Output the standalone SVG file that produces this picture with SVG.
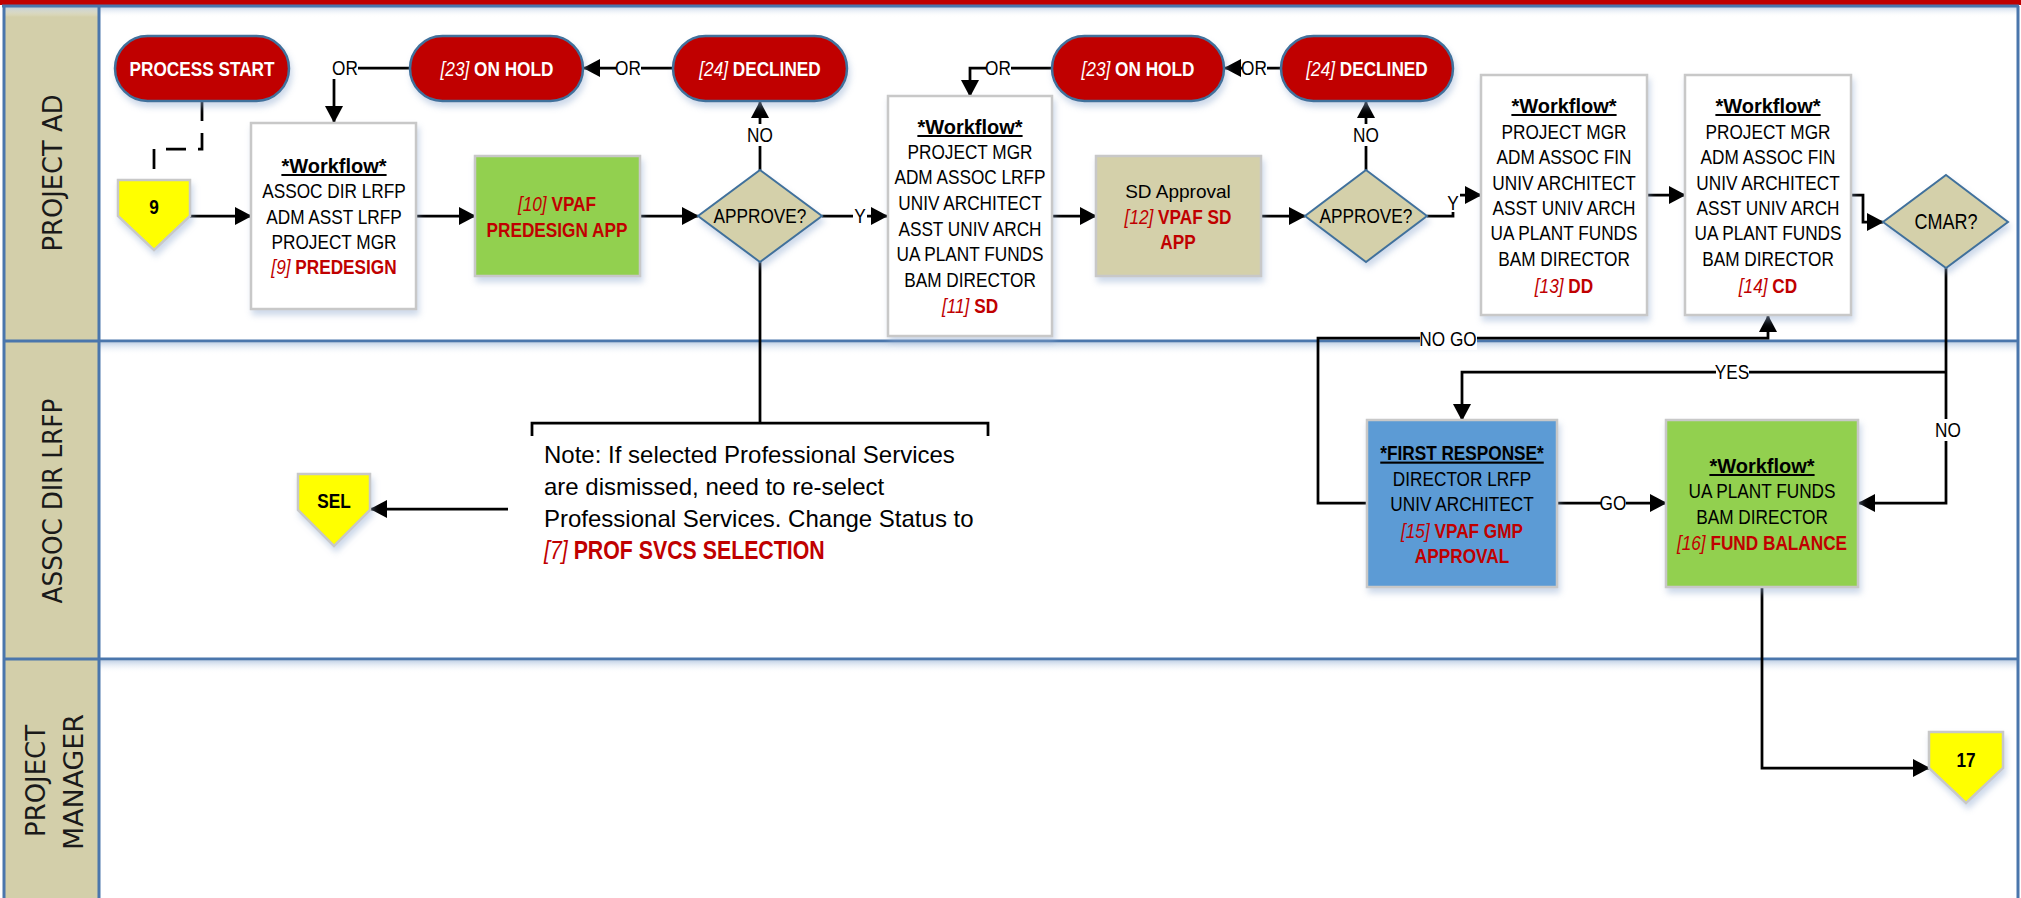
<svg xmlns="http://www.w3.org/2000/svg" width="2021" height="898" viewBox="0 0 2021 898">
<defs>
<style>
.n{font-family:'Liberation Sans',Arial,sans-serif;font-size:21px;fill:#000;text-anchor:middle}
.b{font-weight:bold}
.r{fill:#C00000}
.wt{fill:#fff}
.i{font-style:italic;font-weight:normal}
.wf{font-family:'Liberation Sans',Arial,sans-serif;font-weight:bold;font-size:20px;text-decoration:underline;text-anchor:middle}
.sd{font-family:'Liberation Sans',Arial,sans-serif;font-size:19px;text-anchor:middle}
.note{font-family:'Liberation Sans',Arial,sans-serif;font-size:24px;fill:#000}
.lane{font-family:'DejaVu Sans',sans-serif;font-size:27px;fill:#1a1a1a;text-anchor:middle}
.term{fill:#C00000;stroke:#41719C;stroke-width:2.5}
.box{stroke:#C8C8C8;stroke-width:2.5}
.dia{fill:#D4D0AA;stroke:#41719C;stroke-width:2}
.yel{fill:#FFFF00;stroke:#C8C8C8;stroke-width:2.5}
.c{fill:none;stroke:#000;stroke-width:2.75}
.lblbg{fill:#fff}
.lline{stroke:#4A76AC;stroke-width:3}
</style>
<marker id="ah" markerUnits="userSpaceOnUse" markerWidth="18" markerHeight="18" refX="16" refY="9" orient="auto">
<path d="M0,0 L17,9 L0,18 z" fill="#000"/>
</marker>
<filter id="sh" x="-10%" y="-10%" width="130%" height="130%">
<feDropShadow dx="2" dy="5" stdDeviation="3" flood-color="#8FA9CF" flood-opacity="0.45"/>
</filter>
<linearGradient id="lg" x1="0" y1="0" x2="0" y2="1">
<stop offset="0" stop-color="#B9CBE3" stop-opacity="0.8"/>
<stop offset="1" stop-color="#FFFFFF" stop-opacity="0"/>
</linearGradient>
</defs>

<g id="background">
<rect x="0" y="0" width="2021" height="898" fill="#fff"/>
<rect x="4" y="6" width="95" height="892" fill="#D3CFAA"/>
<rect x="99" y="7" width="1919" height="10" fill="url(#lg)"/>
<rect x="4" y="7" width="95" height="10" fill="url(#lg)"/>
<rect x="99" y="343" width="1919" height="12" fill="url(#lg)"/>
<rect x="99" y="661" width="1919" height="12" fill="url(#lg)"/>
<rect x="0" y="0" width="2021" height="5" fill="#C00000"/>
<line class="lline" x1="2" y1="6" x2="2019" y2="6"/>
<line class="lline" x1="4" y1="6" x2="4" y2="898"/>
<line class="lline" x1="99" y1="6" x2="99" y2="898"/>
<line class="lline" x1="2018" y1="6" x2="2018" y2="898"/>
<line class="lline" x1="4" y1="341" x2="2018" y2="341"/>
<line class="lline" x1="4" y1="659" x2="2018" y2="659"/>
</g>

<g id="lanes">
<text class="lane" transform="translate(62,173) rotate(-90)" textLength="157" lengthAdjust="spacingAndGlyphs">PROJECT AD</text>
<text class="lane" transform="translate(62,501) rotate(-90)" textLength="205" lengthAdjust="spacingAndGlyphs">ASSOC DIR LRFP</text>
<text class="lane" transform="translate(45,781) rotate(-90)" textLength="112" lengthAdjust="spacingAndGlyphs">PROJECT</text>
<text class="lane" transform="translate(83,782) rotate(-90)" textLength="136" lengthAdjust="spacingAndGlyphs">MANAGER</text>
</g>

<g id="connectors">
<path class="c" d="M202,101 V149 H154 V180" stroke-dasharray="20,12"/>
<path class="c" d="M190,216 H251" marker-end="url(#ah)"/>
<path class="c" d="M416,216 H475" marker-end="url(#ah)"/>
<path class="c" d="M640,216 H698" marker-end="url(#ah)"/>
<path class="c" d="M410,68 H334 V122" marker-end="url(#ah)"/>
<path class="c" d="M673,68 H584" marker-end="url(#ah)"/>
<path class="c" d="M760,170 V102" marker-end="url(#ah)"/>
<path class="c" d="M822,216 H887" marker-end="url(#ah)"/>
<path class="c" d="M760,262 V423"/>
<path class="c" d="M532,436 V423 H988 V436"/>
<path class="c" d="M508,509 H371" marker-end="url(#ah)"/>
<path class="c" d="M1052,68 H970 V96" marker-end="url(#ah)"/>
<path class="c" d="M1281,68 H1225" marker-end="url(#ah)"/>
<path class="c" d="M1052,216 H1096" marker-end="url(#ah)"/>
<path class="c" d="M1261,216 H1305" marker-end="url(#ah)"/>
<path class="c" d="M1366,170 V102" marker-end="url(#ah)"/>
<path class="c" d="M1427,216 H1453 V195 H1481" marker-end="url(#ah)"/>
<path class="c" d="M1647,195 H1685" marker-end="url(#ah)"/>
<path class="c" d="M1851,195 H1863 V222 H1883" marker-end="url(#ah)"/>
<path class="c" d="M1946,268 V503 H1859" marker-end="url(#ah)"/>
<path class="c" d="M1946,372 H1462 V420" marker-end="url(#ah)"/>
<path class="c" d="M1557,503 H1666" marker-end="url(#ah)"/>
<path class="c" d="M1367,503 H1318 V338 H1768 V316" marker-end="url(#ah)"/>
<path class="c" d="M1762,587 V768 H1929" marker-end="url(#ah)"/>
</g>

<g id="connector-labels">
<rect class="lblbg" x="332" y="57" width="26" height="22"/>
<text class="n" transform="translate(345,0) scale(0.82,1)" y="75.5">OR</text>
<rect class="lblbg" x="616" y="57" width="25" height="22"/>
<text class="n" transform="translate(628,0) scale(0.82,1)" y="75.5">OR</text>
<rect class="lblbg" x="748" y="124" width="25" height="22"/>
<text class="n" transform="translate(760,0) scale(0.82,1)" y="142.5">NO</text>
<rect class="lblbg" x="853" y="205" width="14" height="22"/>
<text class="n" transform="translate(860,0) scale(0.82,1)" y="223.5">Y</text>
<rect class="lblbg" x="986" y="57" width="25" height="22"/>
<text class="n" transform="translate(998,0) scale(0.82,1)" y="75.5">OR</text>
<rect class="lblbg" x="1242" y="57" width="25" height="22"/>
<text class="n" transform="translate(1254,0) scale(0.82,1)" y="75.5">OR</text>
<rect class="lblbg" x="1354" y="124" width="25" height="22"/>
<text class="n" transform="translate(1366,0) scale(0.82,1)" y="142.5">NO</text>
<rect class="lblbg" x="1446" y="192" width="14" height="20"/>
<text class="n" transform="translate(1453,0) scale(0.82,1)" y="210.5">Y</text>
<rect class="lblbg" x="1420" y="328" width="57" height="22"/>
<text class="n" transform="translate(1448,0) scale(0.82,1)" y="346.5">NO GO</text>
<rect class="lblbg" x="1716" y="361" width="33" height="22"/>
<text class="n" transform="translate(1732,0) scale(0.82,1)" y="379.5">YES</text>
<rect class="lblbg" x="1936" y="419" width="25" height="22"/>
<text class="n" transform="translate(1948,0) scale(0.82,1)" y="437.5">NO</text>
<rect class="lblbg" x="1601" y="492" width="25" height="22"/>
<text class="n" transform="translate(1613,0) scale(0.82,1)" y="510.5">GO</text>
</g>

<g id="process-start">
<rect class="term" x="115" y="36" width="174" height="65" rx="32.5" filter="url(#sh)"/>
<text class="n b wt" transform="translate(202,0) scale(0.82,1)" y="76.5">PROCESS START</text>
</g>

<g id="on-hold-1">
<rect class="term" x="410" y="36" width="173" height="65" rx="32.5" filter="url(#sh)"/>
<text class="n b wt" transform="translate(497,0) scale(0.82,1)" y="76.5"><tspan class="i">[23]</tspan> ON HOLD</text>
</g>

<g id="declined-1">
<rect class="term" x="673" y="36" width="174" height="65" rx="32.5" filter="url(#sh)"/>
<text class="n b wt" transform="translate(760,0) scale(0.82,1)" y="76.5"><tspan class="i">[24]</tspan> DECLINED</text>
</g>

<g id="on-hold-2">
<rect class="term" x="1052" y="36" width="172" height="65" rx="32.5" filter="url(#sh)"/>
<text class="n b wt" transform="translate(1138,0) scale(0.82,1)" y="76.5"><tspan class="i">[23]</tspan> ON HOLD</text>
</g>

<g id="declined-2">
<rect class="term" x="1281" y="36" width="172" height="65" rx="32.5" filter="url(#sh)"/>
<text class="n b wt" transform="translate(1367,0) scale(0.82,1)" y="76.5"><tspan class="i">[24]</tspan> DECLINED</text>
</g>

<g id="connector-9">
<path class="yel" d="M118,180 H190 V216 L154,250 L118,216 Z" filter="url(#sh)"/>
<text class="n b" transform="translate(154,0) scale(0.82,1)" y="214.5">9</text>
</g>

<g id="workflow-predesign">
<rect class="box" x="251" y="123" width="165" height="186" fill="#fff" filter="url(#sh)"/>
<text class="wf" x="334" y="173">*Workflow*</text>
<g transform="translate(334,0) scale(0.82,1)">
<text class="n" y="198.5">ASSOC DIR LRFP</text>
<text class="n" y="224">ADM ASST LRFP</text>
<text class="n" y="249.5">PROJECT MGR</text>
<text class="n b r" y="274.5"><tspan class="i">[9]</tspan> PREDESIGN</text>
</g>
</g>

<g id="vpaf-predesign">
<rect class="box" x="475" y="156" width="165" height="120" fill="#92D050" filter="url(#sh)"/>
<g transform="translate(557,0) scale(0.82,1)">
<text class="n b r" y="211.5"><tspan class="i">[10]</tspan> VPAF</text>
<text class="n b r" y="237.5">PREDESIGN APP</text>
</g>
</g>

<g id="approve-1">
<path class="dia" d="M760,170 L822,216 L760,262 L698,216 Z" filter="url(#sh)"/>
<text class="n" transform="translate(760,0) scale(0.82,1)" y="223.5">APPROVE?</text>
</g>

<g id="workflow-sd">
<rect class="box" x="888" y="96" width="164" height="240" fill="#fff" filter="url(#sh)"/>
<text class="wf" x="970" y="134">*Workflow*</text>
<g transform="translate(970,0) scale(0.82,1)">
<text class="n" y="159.5">PROJECT MGR</text>
<text class="n" y="184.5">ADM ASSOC LRFP</text>
<text class="n" y="210.5">UNIV ARCHITECT</text>
<text class="n" y="236.5">ASST UNIV ARCH</text>
<text class="n" y="261.5">UA PLANT FUNDS</text>
<text class="n" y="287.5">BAM DIRECTOR</text>
<text class="n b r" y="313.5"><tspan class="i">[11]</tspan> SD</text>
</g>
</g>

<g id="sd-approval">
<rect class="box" x="1096" y="156" width="165" height="120" fill="#D4D0AA" filter="url(#sh)"/>
<text class="sd" x="1178" y="198">SD Approval</text>
<g transform="translate(1178,0) scale(0.82,1)">
<text class="n b r" y="224.5"><tspan class="i">[12]</tspan> VPAF SD</text>
<text class="n b r" y="249.5">APP</text>
</g>
</g>

<g id="approve-2">
<path class="dia" d="M1366,170 L1427,216 L1366,262 L1305,216 Z" filter="url(#sh)"/>
<text class="n" transform="translate(1366,0) scale(0.82,1)" y="223.5">APPROVE?</text>
</g>

<g id="workflow-dd">
<rect class="box" x="1481" y="75" width="166" height="240" fill="#fff" filter="url(#sh)"/>
<text class="wf" x="1564" y="113">*Workflow*</text>
<g transform="translate(1564,0) scale(0.82,1)">
<text class="n" y="139.5">PROJECT MGR</text>
<text class="n" y="164.5">ADM ASSOC FIN</text>
<text class="n" y="190.5">UNIV ARCHITECT</text>
<text class="n" y="215.5">ASST UNIV ARCH</text>
<text class="n" y="240.5">UA PLANT FUNDS</text>
<text class="n" y="266.5">BAM DIRECTOR</text>
<text class="n b r" y="293.5"><tspan class="i">[13]</tspan> DD</text>
</g>
</g>

<g id="workflow-cd">
<rect class="box" x="1685" y="75" width="166" height="240" fill="#fff" filter="url(#sh)"/>
<text class="wf" x="1768" y="113">*Workflow*</text>
<g transform="translate(1768,0) scale(0.82,1)">
<text class="n" y="139.5">PROJECT MGR</text>
<text class="n" y="164.5">ADM ASSOC FIN</text>
<text class="n" y="190.5">UNIV ARCHITECT</text>
<text class="n" y="215.5">ASST UNIV ARCH</text>
<text class="n" y="240.5">UA PLANT FUNDS</text>
<text class="n" y="266.5">BAM DIRECTOR</text>
<text class="n b r" y="293.5"><tspan class="i">[14]</tspan> CD</text>
</g>
</g>

<g id="cmar">
<path class="dia" d="M1946,175 L2008,222 L1946,268 L1883,222 Z" filter="url(#sh)"/>
<text class="n" transform="translate(1946,0) scale(0.82,1)" y="229.5" style="font-size:22px">CMAR?</text>
</g>

<g id="note">
<text class="note" x="544" y="462.5">Note: If selected Professional Services</text>
<text class="note" x="544" y="495">are dismissed, need to re-select</text>
<text class="note" x="544" y="526.5">Professional Services. Change Status to</text>
<text class="n b r" transform="translate(544,0) scale(0.82,1)" y="559" style="text-anchor:start;font-size:26px"><tspan class="i">[7]</tspan> PROF SVCS SELECTION</text>
</g>

<g id="connector-sel">
<path class="yel" d="M298,474 H370 V510 L334,546 L298,510 Z" filter="url(#sh)"/>
<text class="n b" transform="translate(334,0) scale(0.82,1)" y="508.5">SEL</text>
</g>

<g id="first-response">
<rect class="box" x="1367" y="420" width="190" height="167" fill="#5B9BD5" filter="url(#sh)"/>
<g transform="translate(1462,0) scale(0.82,1)">
<text class="n b" y="460.5" text-decoration="underline">*FIRST RESPONSE*</text>
<text class="n" y="486.5">DIRECTOR LRFP</text>
<text class="n" y="511.5">UNIV ARCHITECT</text>
<text class="n b r" y="538.5"><tspan class="i">[15]</tspan> VPAF GMP</text>
<text class="n b r" y="563.5">APPROVAL</text>
</g>
</g>

<g id="fund-balance">
<rect class="box" x="1666" y="420" width="192" height="167" fill="#92D050" filter="url(#sh)"/>
<text class="wf" x="1762" y="473">*Workflow*</text>
<g transform="translate(1762,0) scale(0.82,1)">
<text class="n" y="498.5">UA PLANT FUNDS</text>
<text class="n" y="524.5">BAM DIRECTOR</text>
<text class="n b r" y="550.5"><tspan class="i">[16]</tspan> FUND BALANCE</text>
</g>
</g>

<g id="connector-17">
<path class="yel" d="M1929,732 H2003 V768 L1966,803 L1929,768 Z" filter="url(#sh)"/>
<text class="n b" transform="translate(1966,0) scale(0.82,1)" y="767">17</text>
</g>
</svg>
